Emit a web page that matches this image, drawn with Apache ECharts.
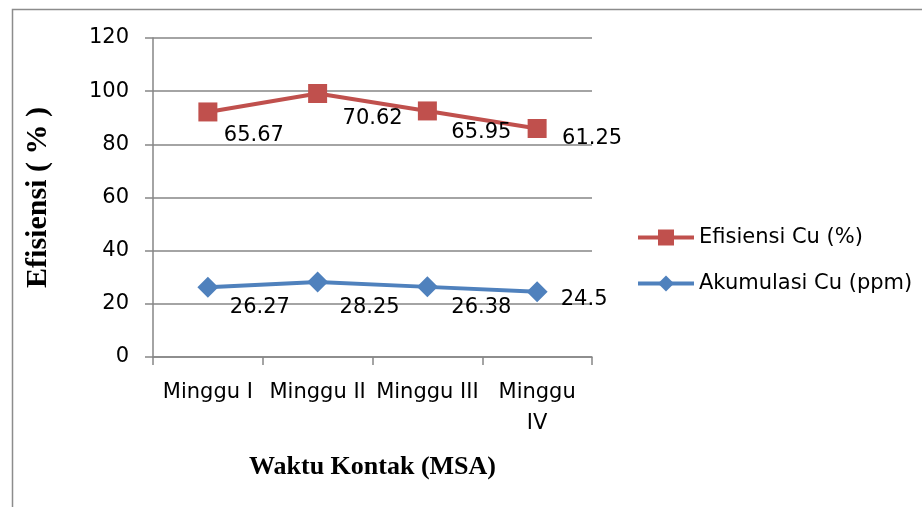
<!DOCTYPE html>
<html><head><meta charset="utf-8">
<script src="https://cdn.jsdelivr.net/npm/echarts@6/dist/echarts.min.js"></script>
<style>html,body{margin:0;padding:0;background:#fff}#c{width:922px;height:507px}</style>
</head><body><div id="c"></div>
<script>
const categories = ['Minggu I', 'Minggu II', 'Minggu III', 'Minggu IV'];
const efisiensi = [92.18, 99.12, 92.56, 85.96];
const efisiensiLabels = ['65.67', '70.62', '65.95', '61.25'];
const akumulasi = [26.27, 28.25, 26.38, 24.5];
const akumulasiLabels = ['26.27', '28.25', '26.38', '24.5'];
const yTicks = [0, 20, 40, 60, 80, 100, 120];

const redOffsets = [[46, 24], [55, 25], [54, 22], [55, 10]];
const blueOffsets = [[52, 20], [52, 26], [54, 21], [47, 8]];
const FONT = 'DejaVu Sans';
const FS = 21;

const chart = echarts.init(document.getElementById('c'));
function mk(vals, labels, offs) {
  return vals.map((v, i) => ({
    value: v,
    label: { show: true, position: 'inside', offset: offs[i], formatter: () => labels[i],
      color: '#000', fontFamily: FONT, fontSize: FS }
  }));
}
chart.setOption({
  animation: false,
  graphic: [{ type: 'rect', left: 10, top: 7, shape: { width: 1000, height: 600 },
    style: { fill: 'none', stroke: '#8c8c8c', lineWidth: 1.5 }, silent: true }],
  grid: { left: 153, right: 330, top: 38, bottom: 150 },
  legend: {
    orient: 'vertical', left: 631, top: 222, itemGap: 25, itemWidth: 56, itemHeight: 20,
    textStyle: { fontFamily: FONT, fontSize: FS, color: '#000' },
    lineStyle: { width: 4 },
    data: ['Efisiensi Cu (%)', 'Akumulasi Cu (ppm)']
  },
  xAxis: {
    type: 'category', data: categories, boundaryGap: true,
    name: 'Waktu Kontak (MSA)', nameLocation: 'middle', nameGap: 97,
    nameTextStyle: { fontFamily: 'Liberation Serif', fontWeight: 'bold', fontSize: 26, color: '#000' },
    axisLine: { lineStyle: { color: '#868686', width: 1.5 } },
    axisTick: { show: true, length: 8, interval: 0, lineStyle: { color: '#868686', width: 1.5 } },
    axisLabel: { fontFamily: FONT, fontSize: FS, color: '#000', margin: 20, lineHeight: 31, interval: 0,
      formatter: (v, i) => i === 3 ? v.replace(' ', '\n') : v }
  },
  yAxis: {
    type: 'value', min: yTicks[0], max: yTicks[yTicks.length - 1], interval: 20,
    name: 'Efisiensi ( % )', nameLocation: 'middle', nameGap: 100,
    nameTextStyle: { fontFamily: 'Liberation Serif', fontWeight: 'bold', fontSize: 30, color: '#000' },
    axisLine: { show: true, lineStyle: { color: '#868686', width: 1.5 } },
    axisTick: { show: true, length: 8, lineStyle: { color: '#868686', width: 1.5 } },
    splitLine: { lineStyle: { color: '#868686', width: 1.5 } },
    axisLabel: { fontFamily: FONT, fontSize: FS, color: '#000', margin: 24 }
  },
  series: [
    { name: 'Efisiensi Cu (%)', type: 'line', data: mk(efisiensi, efisiensiLabels, redOffsets),
      symbol: 'rect', symbolSize: 19, itemStyle: { color: '#C0504D' },
      lineStyle: { color: '#C0504D', width: 4 } },
    { name: 'Akumulasi Cu (ppm)', type: 'line', data: mk(akumulasi, akumulasiLabels, blueOffsets),
      symbol: 'diamond', symbolSize: [21, 21], itemStyle: { color: '#4F81BD' },
      lineStyle: { color: '#4F81BD', width: 4 } }
  ]
});
</script></body></html>
